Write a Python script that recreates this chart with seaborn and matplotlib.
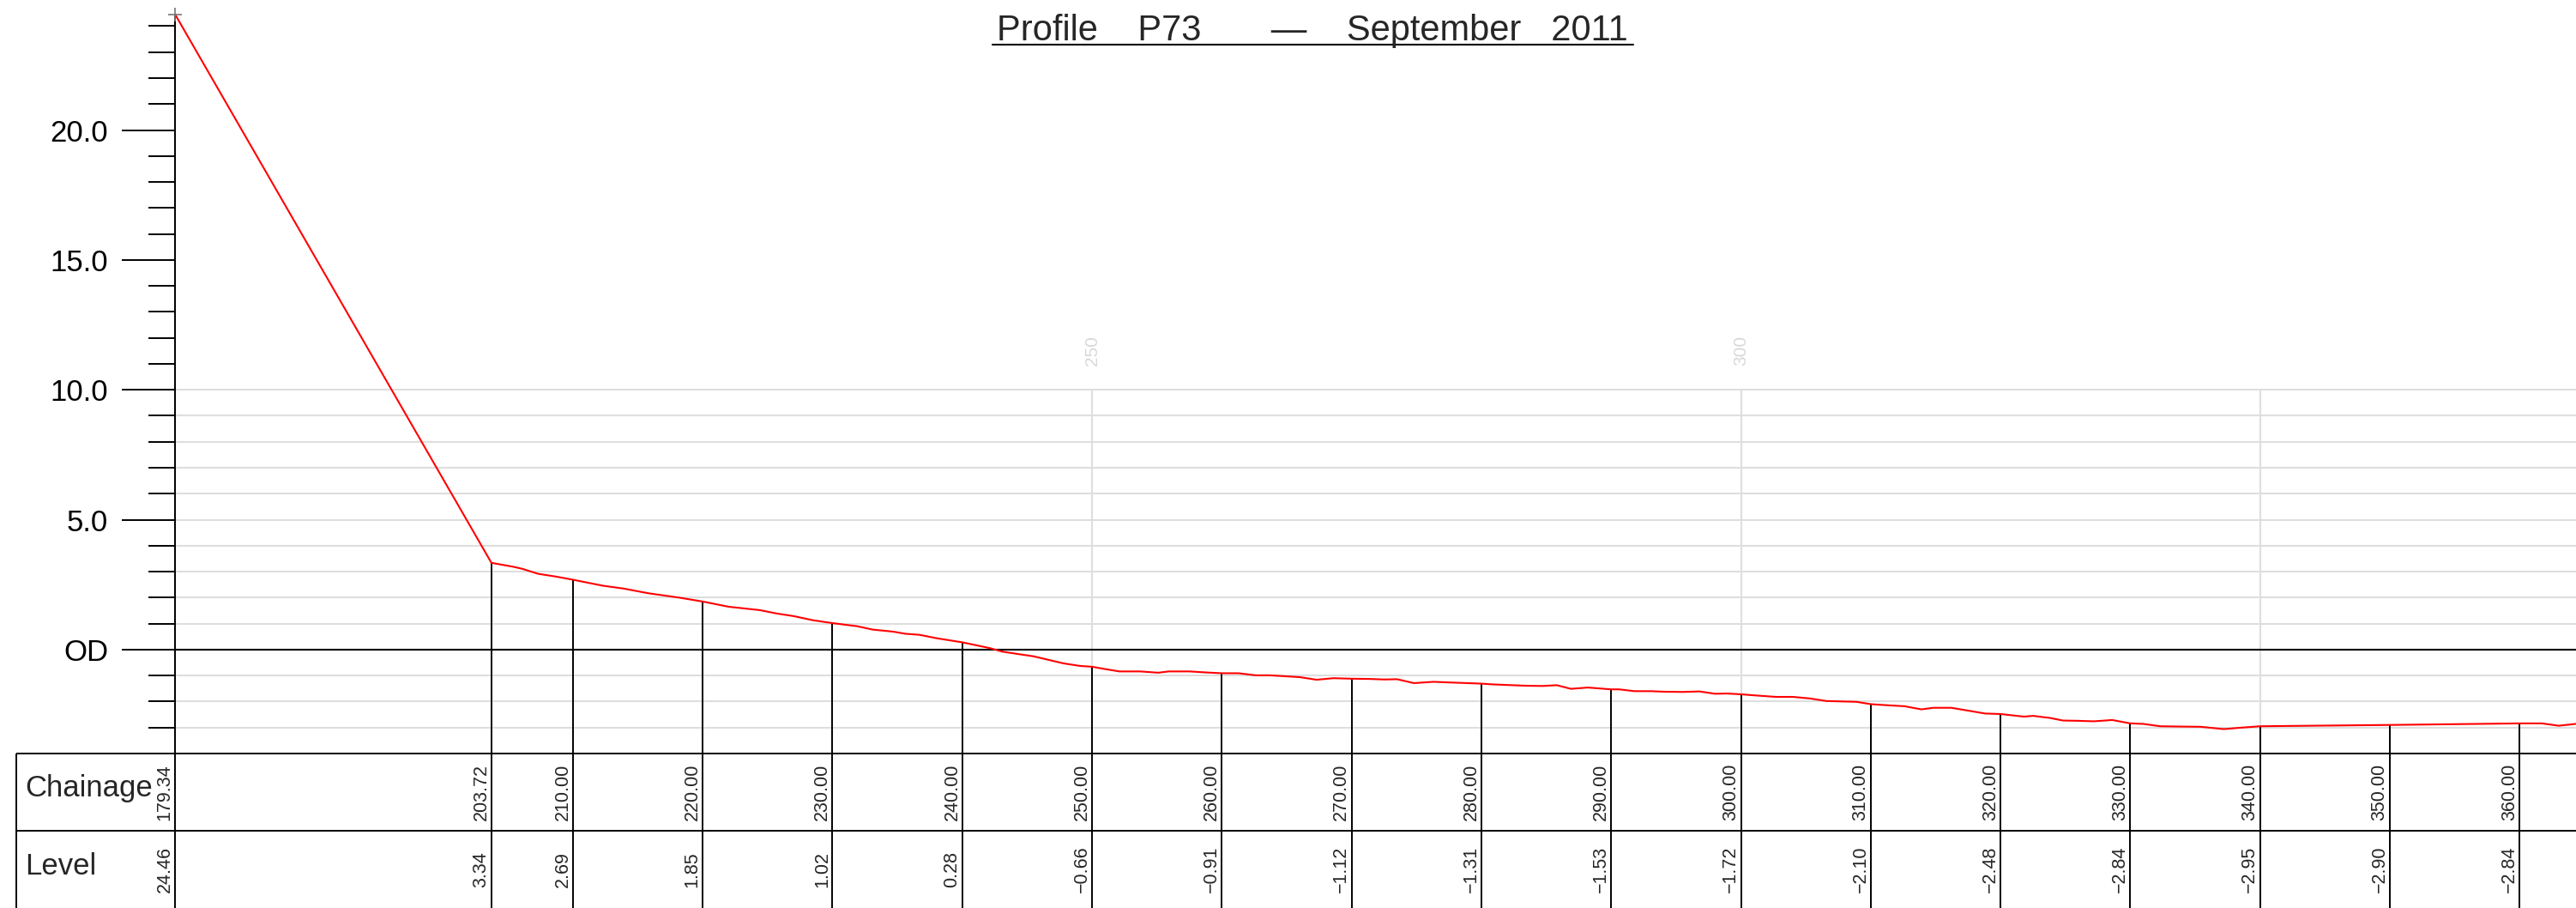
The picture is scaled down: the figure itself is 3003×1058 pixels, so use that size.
import matplotlib
matplotlib.use("Agg")
import matplotlib.pyplot as plt
from matplotlib.lines import Line2D
from matplotlib.ticker import FuncFormatter
import seaborn as sns
import pandas as pd

# Surveyed profile points (chainage m, level m OD)
profile_chainage = [179.34, 203.72, 205.4, 206.1, 207.3, 208.7, 210.0, 211.0, 212.3, 213.9,
                    215.8, 218.2, 220.0, 222.0, 224.4, 225.7, 227.0, 228.5, 230.0, 231.9,
                    233.1, 234.7, 235.6, 236.7, 238.0, 240.0, 242.1, 243.1, 245.5, 247.8,
                    249.1, 250.0, 250.9, 252.1, 253.7, 255.1, 255.9, 257.5, 258.8, 260.0,
                    261.3, 262.6, 263.7, 266.0, 267.3, 268.6, 270.0, 271.4, 272.5, 273.5,
                    274.8, 276.3, 277.3, 280.0, 280.9, 283.4, 284.7, 285.8, 286.9, 288.2,
                    290.0, 290.6, 291.8, 293.1, 294.0, 295.5, 296.8, 298.0, 298.9, 300.0,
                    301.0, 302.7, 304.0, 305.3, 306.6, 308.9, 310.0, 311.2, 312.6, 313.9,
                    314.8, 316.2, 317.4, 318.8, 320.0, 321.8, 322.5, 323.8, 324.8, 325.9,
                    327.2, 328.6, 330.0, 331.0, 332.3, 333.6, 335.4, 337.2, 338.4, 340.0,
                    350.0, 360.0, 361.7, 363.0, 364.3]
profile_level = [24.46, 3.34, 3.19, 3.11, 2.92, 2.81, 2.69, 2.59, 2.46, 2.35,
                 2.17, 2.00, 1.85, 1.65, 1.52, 1.39, 1.29, 1.13, 1.02, 0.90,
                 0.77, 0.69, 0.61, 0.57, 0.44, 0.28, 0.06, -0.08, -0.26, -0.53,
                 -0.63, -0.66, -0.74, -0.84, -0.84, -0.89, -0.84, -0.84, -0.88, -0.91,
                 -0.91, -0.99, -0.99, -1.06, -1.16, -1.10, -1.12, -1.13, -1.15, -1.14,
                 -1.29, -1.24, -1.26, -1.31, -1.34, -1.39, -1.40, -1.37, -1.51, -1.46,
                 -1.53, -1.53, -1.60, -1.60, -1.62, -1.63, -1.61, -1.70, -1.69, -1.72,
                 -1.76, -1.82, -1.82, -1.88, -1.98, -2.01, -2.10, -2.14, -2.18, -2.30,
                 -2.24, -2.24, -2.34, -2.46, -2.48, -2.58, -2.55, -2.63, -2.73, -2.74,
                 -2.76, -2.71, -2.84, -2.86, -2.95, -2.96, -2.97, -3.06, -3.01, -2.95,
                 -2.90, -2.84, -2.84, -2.93, -2.86]

# Stations listed in the table
station_chainage = [179.34, 203.72, 210, 220, 230, 240, 250, 260, 270, 280,
                    290, 300, 310, 320, 330, 340, 350, 360]
station_level = [24.46, 3.34, 2.69, 1.85, 1.02, 0.28, -0.66, -0.91, -1.12, -1.31,
                 -1.53, -1.72, -2.10, -2.48, -2.84, -2.95, -2.90, -2.84]

grid_levels = [-3, -2, -1, 1, 2, 3, 4, 5, 6, 7, 8, 9, 10]
grid_chainage = [250, 300, 340]
grid_labels = ["250", "300", ""]
major_levels = [0, 5, 10, 15, 20]
minor_levels = [v for v in range(-3, 25) if v % 5 != 0]

title = "Profile    P73       —    September   2011"

sns.set_theme(style="white")
plt.rcParams["font.family"] = ["Liberation Sans", "DejaVu Sans"]

W, H = 3003, 1058
fig = plt.figure(figsize=(W / 100, H / 100), dpi=100)

# pixel geometry
px_per_m = 15.13
px_per_lv = 30.27
x0_px, table_px = 204, 180
x_min = 179.34
x_max = x_min + (W - x0_px) / px_per_m
y_min = -4
y_max = y_min + (H - table_px) / px_per_lv

ax = fig.add_axes([x0_px / W, table_px / H, (W - x0_px) / W, (H - table_px) / H])
ax_tab = fig.add_axes([0, 0, 1, table_px / H])

df = pd.DataFrame({"chainage": profile_chainage, "level": profile_level})

grid_col = "#dedede"
ax.hlines(grid_levels, x_min, x_max, color=grid_col, lw=1.5, zorder=1)
ax.vlines(grid_chainage, y_min, 10, color=grid_col, lw=1.5, zorder=1)
for c, lab in zip(grid_chainage, grid_labels):
    ax.text(c, 11.5, lab, rotation=90, ha="center", va="center",
            fontsize=15, color="#d8d8d8")

ax.axhline(0, color="black", lw=1.5, zorder=2)
ax.vlines(station_chainage, y_min, station_level, color="black", lw=1.4, zorder=2)

sns.lineplot(data=df, x="chainage", y="level", color="red", lw=1.5,
             sort=False, ax=ax, zorder=3)
ax.plot(profile_chainage[0], profile_level[0], marker="+", ms=12, mew=1.2,
        color="#777777", clip_on=False, zorder=4)

ax.set_xlim(x_min, x_max)
ax.set_ylim(y_min, y_max)
ax.set_xticks([])
ax.set_yticks(major_levels)
ax.set_yticks(minor_levels, minor=True)
ax.yaxis.set_major_formatter(FuncFormatter(lambda v, p: "OD" if abs(v) < 1e-9 else f"{v:.1f}"))
ax.tick_params(axis="y", which="major", direction="out", length=44.6, width=1.4,
               pad=11.5, labelsize=25, colors="black", left=True)
ax.tick_params(axis="y", which="minor", direction="out", length=22.3, width=1.4,
               colors="black", left=True)
for s in ["top", "right", "bottom"]:
    ax.spines[s].set_visible(False)
ax.spines["left"].set_bounds(y_min, profile_level[0])
ax.spines["left"].set_linewidth(1.4)
ax.spines["left"].set_color("black")
ax.set_xlabel("")
ax.set_ylabel("")
ax.grid(False)

# table below the profile
tab_left = x_min - (x0_px - 19) / px_per_m
ax_tab.set_xlim(x_min - x0_px / px_per_m, x_max)
ax_tab.set_ylim(0, 2)
ax_tab.axis("off")
ax_tab.hlines([1, 2], tab_left, x_max, color="black", lw=1.4, clip_on=False)
ax_tab.vlines([tab_left] + station_chainage, 0, 2, color="black", lw=1.4, clip_on=False)
ax_tab.text(29 / W, 1.5 - 5 / 90, "Chainage", transform=ax_tab.get_yaxis_transform(),
            fontsize=25, ha="left", va="baseline")
ax_tab.text(29 / W, 0.5 - 6 / 90, "Level", transform=ax_tab.get_yaxis_transform(),
            fontsize=25, ha="left", va="baseline")
for c, lv in zip(station_chainage, station_level):
    ax_tab.annotate(f"{c:.2f}", (c, 1.5), xytext=(-1, 0), textcoords="offset points",
                    rotation=90, ha="right", va="center", fontsize=15.5)
    ax_tab.annotate(f"{lv:.2f}".replace("-", "\u2212"), (c, 0.5), xytext=(-1, 0),
                    textcoords="offset points", rotation=90, ha="right", va="center",
                    fontsize=15.5)

# title with underline
fig.text(1530 / W, 1 - 46.7 / H, title, ha="center", va="baseline", fontsize=30)
fig.add_artist(Line2D([1157 / W, 1904 / W], [1 - 52 / H] * 2,
                      transform=fig.transFigure, color="black", lw=1.5))

fig.savefig("out.png", dpi=100)
